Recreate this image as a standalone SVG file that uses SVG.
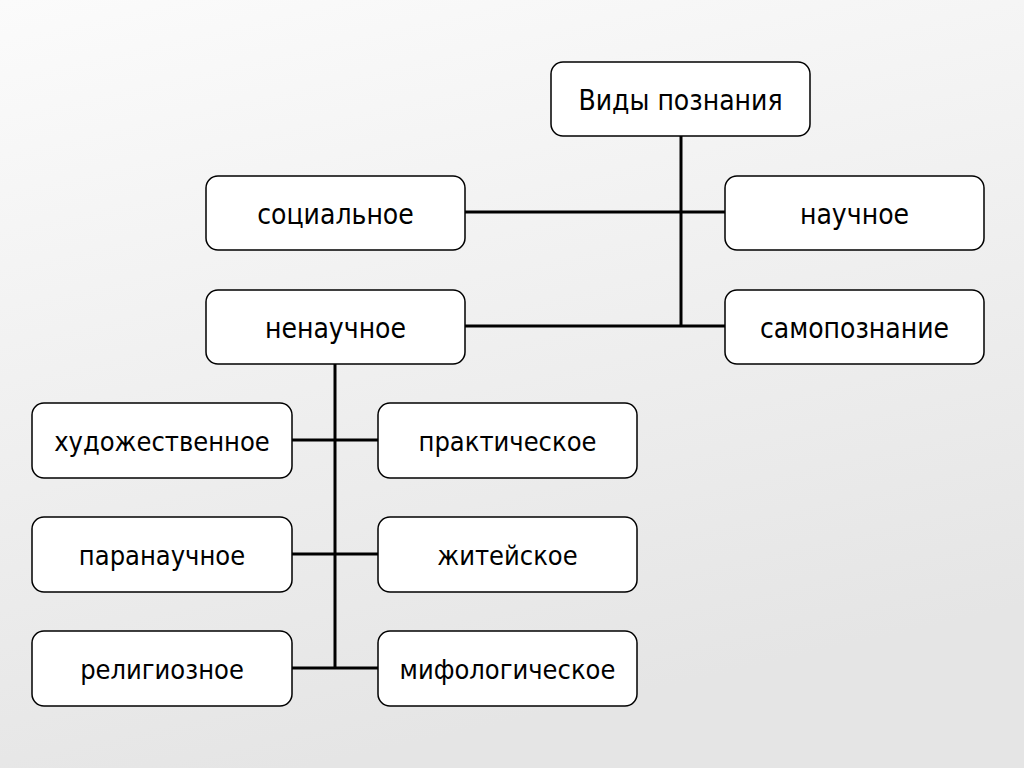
<svg xmlns="http://www.w3.org/2000/svg" width="1024" height="768" viewBox="0 0 1024 768">
<style>
.box{fill:#ffffff;stroke:#000000;stroke-width:1.5}
.t{font-family:"DejaVu Sans Condensed","DejaVu Sans","Liberation Sans",sans-serif;font-stretch:condensed;font-size:27px;fill:#000000;text-anchor:middle}
.u{font-size:28px}
.c{stroke:#000000;stroke-width:3;fill:none}
</style>
<defs>
<linearGradient id="g" x1="0" y1="0" x2="0.3" y2="1">
<stop offset="0" stop-color="#fbfbfb"/>
<stop offset="1" stop-color="#e5e5e5"/>
</linearGradient>
</defs>
<rect width="1024" height="768" fill="url(#g)"/>
<g id="connectors">
<path class="c" d="M681 136 V326"/>
<path class="c" d="M465 212 H725"/>
<path class="c" d="M465 326 H725"/>
<path class="c" d="M335 364 V668"/>
<path class="c" d="M292 440 H378"/>
<path class="c" d="M292 554 H378"/>
<path class="c" d="M292 668 H378"/>
</g>
<g id="vidy"><rect class="box" x="551" y="62" width="259" height="74" rx="12"/><text class="t u" x="680.5" y="110">Виды познания</text></g>
<g id="socialnoe"><rect class="box" x="206" y="176" width="259" height="74" rx="12"/><text class="t u" x="335.5" y="224">социальное</text></g>
<g id="nauchnoe"><rect class="box" x="725" y="176" width="259" height="74" rx="12"/><text class="t u" x="854.5" y="224">научное</text></g>
<g id="nenauchnoe"><rect class="box" x="206" y="290" width="259" height="74" rx="12"/><text class="t u" x="335.5" y="338">ненаучное</text></g>
<g id="samopoznanie"><rect class="box" x="725" y="290" width="259" height="74" rx="12"/><text class="t u" x="854.5" y="338">самопознание</text></g>
<g id="hudozh"><rect class="box" x="32" y="403" width="260" height="75" rx="12"/><text class="t" x="162" y="451">художественное</text></g>
<g id="prakt"><rect class="box" x="378" y="403" width="259" height="75" rx="12"/><text class="t" x="507.5" y="451">практическое</text></g>
<g id="paranauch"><rect class="box" x="32" y="517" width="260" height="75" rx="12"/><text class="t" x="162" y="565">паранаучное</text></g>
<g id="zhiteyskoe"><rect class="box" x="378" y="517" width="259" height="75" rx="12"/><text class="t" x="507.5" y="565">житейское</text></g>
<g id="religioznoe"><rect class="box" x="32" y="631" width="260" height="75" rx="12"/><text class="t" x="162" y="679">религиозное</text></g>
<g id="mifolog"><rect class="box" x="378" y="631" width="259" height="75" rx="12"/><text class="t" x="507.5" y="679">мифологическое</text></g>
</svg>
